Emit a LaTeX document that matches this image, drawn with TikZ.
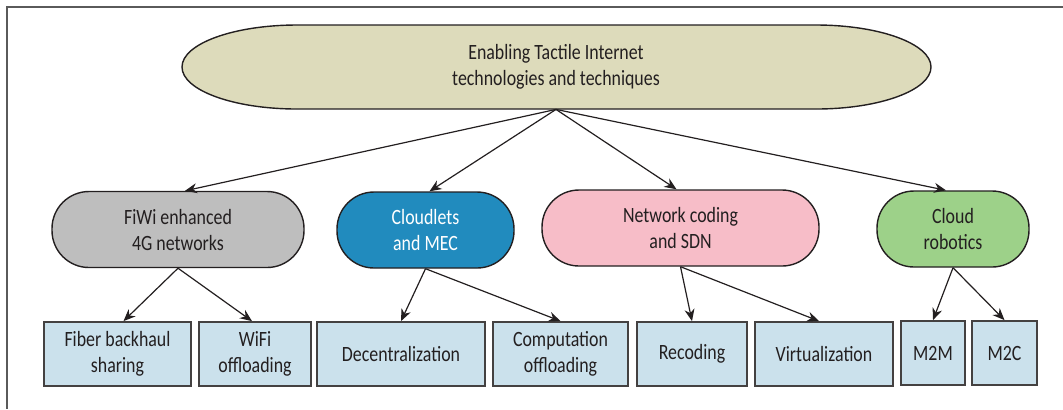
\documentclass[tikz,border=0pt]{standalone}
\usepackage{fontspec}
\setmainfont{Carlito}[FakeStretch=0.82]
\usepackage{xcolor}
\definecolor{tibeige}{RGB}{221,219,187}
\definecolor{tigray}{RGB}{190,190,190}
\definecolor{tiblue}{RGB}{33,139,190}
\definecolor{tipink}{RGB}{247,189,200}
\definecolor{tigreen}{RGB}{157,209,137}
\definecolor{tileaf}{RGB}{203,225,236}
\definecolor{tiline}{RGB}{35,31,32}
\definecolor{tiframe}{RGB}{90,90,90}
\usetikzlibrary{arrows.meta,positioning}

\begin{document}
\begin{tikzpicture}[x=0.5pt, y=-0.5pt,
  every node/.style={font=\fontsize{10.9}{13}\selectfont, text=tiline, align=center, inner sep=0pt},
  tech/.style={draw=tiline, line width=0.7pt, rounded corners=18.5pt, minimum height=38pt},
  leaf/.style={draw=tiline!85, line width=0.9pt, fill=tileaf, minimum height=32pt},
  arr/.style={-{Stealth[length=6pt,width=5pt]}, line width=0.6pt, tiline}]
  \useasboundingbox (0,0) rectangle (1063,409);

  % Frame (top and left only)
  \draw[tiframe, line width=0.8pt] (1063,7) -- (7,7) -- (7,409);

  % Root: flat top and bottom, elliptic ends
  \draw[tiline, line width=0.7pt, fill=tibeige] (297,25) -- (816,25)
    arc[start angle=90, end angle=-90, x radius=57.5pt, y radius=21pt] -- (297,109)
    arc[start angle=270, end angle=90, x radius=57.5pt, y radius=21pt] -- cycle;
  \node[minimum width=374.5pt, minimum height=42pt] (root) at (556,67) {Enabling Tactile Internet\\technologies and techniques};

  % Technologies
  \node[tech, fill=tigray, minimum width=126pt] (fiwi) at (178,229.5) {FiWi enhanced\\4G networks};
  \node[tech, fill=tiblue, minimum width=88.5pt, text=white] (cloudlet) at (425.5,230) {Cloudlets\\and MEC};
  \node[tech, fill=tipink, minimum width=138.5pt] (netcod) at (680.5,228) {Network coding\\and SDN};
  \node[tech, fill=tigreen, minimum width=76pt] (robot) at (953,229) {Cloud\\robotics};

  % Techniques
  \node[leaf, minimum width=73.5pt] (fiber) at (117.5,354) {Fiber backhaul\\sharing};
  \node[leaf, minimum width=56pt] (wifi) at (255,354) {WiFi\\offloading};
  \node[leaf, minimum width=84pt] (decent) at (401,354) {Decentralization};
  \node[leaf, minimum width=67.5pt] (compoff) at (560.5,354) {Computation\\offloading};
  \node[leaf, minimum width=55pt] (recod) at (692,354) {Recoding};
  \node[leaf, minimum width=69pt] (virt) at (824,354) {Virtualization};
  \node[leaf, minimum width=32pt] (mtom) at (933,353) {M2M};
  \node[leaf, minimum width=32.5pt] (mtoc) at (1004.5,353) {M2C};

  % Arrows root -> technologies
  \draw[arr] (root.south) -- ([xshift=3.5pt]fiwi.north);
  \draw[arr] (root.south) -- ([xshift=2pt]cloudlet.north);
  \draw[arr] (root.south) -- ([xshift=-2pt]netcod.north);
  \draw[arr] (root.south) -- ([xshift=-3.5pt]robot.north);

  % Arrows technologies -> techniques
  \draw[arr] (fiwi.south) -- ([xshift=3pt]fiber.north);
  \draw[arr] (fiwi.south) -- ([xshift=-1.5pt]wifi.north);
  \draw[arr] (cloudlet.south) -- (decent.north);
  \draw[arr] (cloudlet.south) -- (compoff.north);
  \draw[arr] (netcod.south) -- (recod.north);
  \draw[arr] (netcod.south) -- ([xshift=-2.5pt]virt.north);
  \draw[arr] (robot.south) -- (mtom.north);
  \draw[arr] (robot.south) -- (mtoc.north);
\end{tikzpicture}
\end{document}
